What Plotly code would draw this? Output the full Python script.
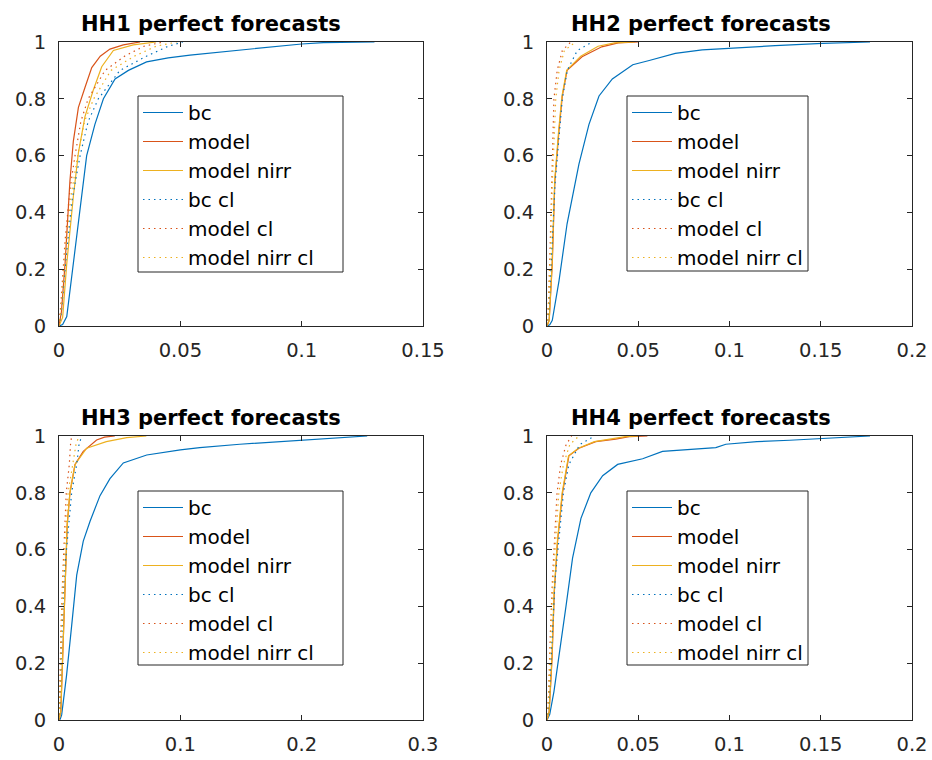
import plotly.graph_objects as go

# Empirical CDFs of the forecast error for four households (perfect forecasts)
names = ["bc", "model", "model nirr", "bc cl", "model cl", "model nirr cl"]
titles = ["HH1 perfect forecasts", "HH2 perfect forecasts",
          "HH3 perfect forecasts", "HH4 perfect forecasts"]
x_ranges = [0.15, 0.2, 0.3, 0.2]
x_ticks = [[0, 0.05, 0.1, 0.15],
           [0, 0.05, 0.1, 0.15, 0.2],
           [0, 0.1, 0.2, 0.3],
           [0, 0.05, 0.1, 0.15, 0.2]]
x_ticklabels = [["0", "0.05", "0.1", "0.15"],
                ["0", "0.05", "0.1", "0.15", "0.2"],
                ["0", "0.1", "0.2", "0.3"],
                ["0", "0.05", "0.1", "0.15", "0.2"]]
y_ticks = [0, 0.2, 0.4, 0.6, 0.8, 1]
y_ticklabels = ["0", "0.2", "0.4", "0.6", "0.8", "1"]

# ---- HH1 ----
hh1_bc_x = [0, 0.0015, 0.0032, 0.0059, 0.0087, 0.0114, 0.0148, 0.0183, 0.0231, 0.0286, 0.0361, 0.045, 0.054, 0.0746, 0.1, 0.109, 0.124, 0.13]
hh1_bc_y = [0, 0.005, 0.033, 0.22, 0.43, 0.60, 0.71, 0.80, 0.87, 0.90, 0.93, 0.944, 0.954, 0.972, 0.993, 0.998, 1.0, 1.0]
hh1_model_x = [0, 0.001, 0.0025, 0.0045, 0.0059, 0.008, 0.0107, 0.0135, 0.017, 0.021, 0.0265, 0.0334]
hh1_model_y = [0, 0.05, 0.22, 0.51, 0.65, 0.77, 0.84, 0.91, 0.95, 0.975, 0.99, 1.0]
hh1_nirr_x = [0, 0.0015, 0.0032, 0.0059, 0.008, 0.0107, 0.0141, 0.0176, 0.0224, 0.0306, 0.040]
hh1_nirr_y = [0, 0.03, 0.22, 0.455, 0.61, 0.737, 0.83, 0.913, 0.97, 0.99, 1.0]
hh1_bccl_x = [0, 0.001, 0.003, 0.0055, 0.0087, 0.012, 0.0162, 0.0251, 0.036, 0.045, 0.051]
hh1_bccl_y = [0, 0.05, 0.25, 0.45, 0.60, 0.72, 0.80, 0.90, 0.95, 0.985, 1.0]
hh1_modelcl_x = [0, 0.0008, 0.0025, 0.0045, 0.0066, 0.009, 0.012, 0.019, 0.027, 0.035, 0.043]
hh1_modelcl_y = [0, 0.08, 0.30, 0.48, 0.60, 0.72, 0.80, 0.90, 0.95, 0.985, 1.0]
hh1_nirrcl_x = [0, 0.001, 0.0028, 0.005, 0.0077, 0.0105, 0.0143, 0.0214, 0.031, 0.040, 0.0485]
hh1_nirrcl_y = [0, 0.07, 0.28, 0.46, 0.60, 0.72, 0.80, 0.90, 0.95, 0.985, 1.0]

# ---- HH2 ----
hh2_bc_x = [0, 0.0015, 0.0029, 0.0066, 0.011, 0.0175, 0.023, 0.0285, 0.0358, 0.047, 0.056, 0.0703, 0.085, 0.1, 0.125, 0.151, 0.177]
hh2_bc_y = [0, 0.004, 0.02, 0.16, 0.36, 0.57, 0.71, 0.81, 0.87, 0.92, 0.935, 0.96, 0.972, 0.978, 0.987, 0.995, 1.0]
hh2_model_x = [0, 0.0012, 0.0029, 0.0043, 0.0066, 0.0084, 0.011, 0.0192, 0.030, 0.039, 0.05]
hh2_model_y = [0, 0.02, 0.22, 0.51, 0.69, 0.81, 0.90, 0.948, 0.983, 0.997, 1.0]
hh2_nirr_x = [0, 0.0012, 0.0028, 0.0042, 0.0064, 0.0082, 0.0108, 0.0185, 0.028, 0.037, 0.048]
hh2_nirr_y = [0, 0.02, 0.22, 0.51, 0.69, 0.81, 0.90, 0.95, 0.985, 0.997, 1.0]
hh2_bccl_x = [0, 0.001, 0.0025, 0.0044, 0.0084, 0.0111, 0.0166, 0.0248]
hh2_bccl_y = [0, 0.05, 0.25, 0.50, 0.80, 0.90, 0.97, 1.0]
hh2_modelcl_x = [0, 0.0008, 0.0018, 0.0026, 0.0038, 0.0056, 0.0084, 0.013]
hh2_modelcl_y = [0, 0.08, 0.30, 0.50, 0.80, 0.90, 0.97, 1.0]
hh2_nirrcl_x = [0, 0.0008, 0.002, 0.0029, 0.0048, 0.0066, 0.0095, 0.0157]
hh2_nirrcl_y = [0, 0.07, 0.28, 0.50, 0.80, 0.90, 0.97, 1.0]

# ---- HH3 ----
hh3_bc_x = [0, 0.001, 0.0022, 0.0063, 0.0105, 0.0146, 0.02, 0.0256, 0.0338, 0.042, 0.053, 0.0723, 0.1, 0.116, 0.149, 0.2, 0.229, 0.254]
hh3_bc_y = [0, 0.003, 0.018, 0.16, 0.335, 0.51, 0.63, 0.70, 0.79, 0.85, 0.905, 0.933, 0.951, 0.959, 0.971, 0.986, 0.994, 1.0]
hh3_model_x = [0, 0.0015, 0.003, 0.005, 0.0068, 0.009, 0.0132, 0.02, 0.031, 0.0375, 0.046]
hh3_model_y = [0, 0.03, 0.22, 0.45, 0.69, 0.80, 0.90, 0.946, 0.986, 0.996, 1.0]
hh3_nirr_x = [0, 0.0015, 0.003, 0.005, 0.0068, 0.009, 0.0132, 0.0228, 0.039, 0.0558, 0.072]
hh3_nirr_y = [0, 0.03, 0.22, 0.45, 0.69, 0.80, 0.90, 0.957, 0.98, 0.994, 1.0]
hh3_bccl_x = [0, 0.0008, 0.002, 0.0041, 0.0104, 0.0146, 0.0165, 0.0187]
hh3_bccl_y = [0, 0.05, 0.25, 0.50, 0.80, 0.90, 0.97, 1.0]
hh3_modelcl_x = [0, 0.0006, 0.0015, 0.003, 0.006, 0.0085, 0.0095, 0.0104]
hh3_modelcl_y = [0, 0.08, 0.30, 0.50, 0.80, 0.90, 0.97, 1.0]
hh3_nirrcl_x = [0, 0.0007, 0.0018, 0.0035, 0.0075, 0.011, 0.014, 0.0165]
hh3_nirrcl_y = [0, 0.07, 0.28, 0.50, 0.80, 0.90, 0.97, 1.0]

# ---- HH4 ----
hh4_bc_x = [0, 0.0015, 0.0038, 0.0066, 0.0104, 0.014, 0.0186, 0.024, 0.0305, 0.0387, 0.0524, 0.0633, 0.0742, 0.0925, 0.098, 0.115, 0.133, 0.151, 0.177]
hh4_bc_y = [0, 0.02, 0.10, 0.22, 0.40, 0.57, 0.71, 0.80, 0.86, 0.90, 0.92, 0.946, 0.951, 0.959, 0.971, 0.98, 0.985, 0.992, 1.0]
hh4_model_x = [0, 0.0012, 0.0028, 0.004, 0.0058, 0.0085, 0.012, 0.0175, 0.0267, 0.0376, 0.045, 0.055]
hh4_model_y = [0, 0.03, 0.22, 0.45, 0.63, 0.80, 0.93, 0.957, 0.98, 0.989, 0.998, 1.0]
hh4_nirr_x = [0, 0.0012, 0.0027, 0.0039, 0.0057, 0.0083, 0.0118, 0.0172, 0.026, 0.036, 0.043, 0.05]
hh4_nirr_y = [0, 0.03, 0.22, 0.45, 0.63, 0.80, 0.93, 0.957, 0.98, 0.99, 0.998, 1.0]
hh4_bccl_x = [0, 0.001, 0.0025, 0.0045, 0.009, 0.012, 0.018, 0.026]
hh4_bccl_y = [0, 0.05, 0.25, 0.50, 0.80, 0.90, 0.97, 1.0]
hh4_modelcl_x = [0, 0.0008, 0.0018, 0.003, 0.0055, 0.0075, 0.0105, 0.0135]
hh4_modelcl_y = [0, 0.08, 0.30, 0.50, 0.80, 0.90, 0.97, 1.0]
hh4_nirrcl_x = [0, 0.0008, 0.002, 0.0034, 0.0065, 0.009, 0.0125, 0.0175]
hh4_nirrcl_y = [0, 0.07, 0.28, 0.50, 0.80, 0.90, 0.97, 1.0]

series = [
    [(hh1_bc_x, hh1_bc_y), (hh1_model_x, hh1_model_y), (hh1_nirr_x, hh1_nirr_y),
     (hh1_bccl_x, hh1_bccl_y), (hh1_modelcl_x, hh1_modelcl_y), (hh1_nirrcl_x, hh1_nirrcl_y)],
    [(hh2_bc_x, hh2_bc_y), (hh2_model_x, hh2_model_y), (hh2_nirr_x, hh2_nirr_y),
     (hh2_bccl_x, hh2_bccl_y), (hh2_modelcl_x, hh2_modelcl_y), (hh2_nirrcl_x, hh2_nirrcl_y)],
    [(hh3_bc_x, hh3_bc_y), (hh3_model_x, hh3_model_y), (hh3_nirr_x, hh3_nirr_y),
     (hh3_bccl_x, hh3_bccl_y), (hh3_modelcl_x, hh3_modelcl_y), (hh3_nirrcl_x, hh3_nirrcl_y)],
    [(hh4_bc_x, hh4_bc_y), (hh4_model_x, hh4_model_y), (hh4_nirr_x, hh4_nirr_y),
     (hh4_bccl_x, hh4_bccl_y), (hh4_modelcl_x, hh4_modelcl_y), (hh4_nirrcl_x, hh4_nirrcl_y)],
]

colors = ["#0072BD", "#D95319", "#EDB120"] * 2
dashes = ["solid"] * 3 + ["1.5px,4px"] * 3

W, H = 932, 760
FONT = "DejaVu Sans, Verdana, sans-serif"
AX_COLOR = "#262626"

# panel boxes in pixels: (left, right, top, bottom)
boxes = [(59, 423, 42, 326), (547, 912, 42, 326),
         (59, 423, 436, 720), (547, 912, 436, 720)]
# legend frames in pixels: (left, right, top, bottom)
legend_frames = [(138, 343, 96, 272), (627, 808, 96, 271),
                 (138, 343, 491, 665), (627, 808, 491, 665)]
title_pos = [(211, 24), (701, 24), (211, 418), (701, 418)]

fig = go.Figure()
layout = dict(width=W, height=H, margin=dict(l=0, r=0, t=0, b=0, autoexpand=False),
              paper_bgcolor="white", plot_bgcolor="white",
              font=dict(family=FONT, color=AX_COLOR), showlegend=True)
annotations = []
shapes = []

for i in range(4):
    k = "" if i == 0 else str(i + 1)
    lg = "legend" + k
    for j, (xs, ys) in enumerate(series[i]):
        fig.add_trace(go.Scatter(
            x=xs, y=ys, mode="lines", name=names[j],
            line=dict(color=colors[j], width=1.2, dash=dashes[j]),
            xaxis="x" + k, yaxis="y" + k, legend=lg,
        ))
    l, r, t, b = boxes[i]
    common = dict(showgrid=False, zeroline=False, showline=True, mirror="ticks",
                  linecolor=AX_COLOR, linewidth=1, ticks="inside", ticklen=5,
                  tickcolor=AX_COLOR, automargin=False,
                  tickfont=dict(size=19.5, color=AX_COLOR, family=FONT))
    layout["xaxis" + k] = dict(domain=[l / W, r / W], range=[0, x_ranges[i]],
                               tickvals=x_ticks[i], ticktext=x_ticklabels[i],
                               anchor="y" + k, ticklabelstandoff=7, **common)
    layout["yaxis" + k] = dict(domain=[1 - b / H, 1 - t / H], range=[0, 1],
                               tickvals=y_ticks, ticktext=y_ticklabels,
                               anchor="x" + k, ticklabelstandoff=8, **common)

    # legend frame (white box with dark border) under a transparent legend
    fl, fr, ft, fb = legend_frames[i]
    shapes.append(dict(type="rect", xref="paper", yref="paper",
                       x0=fl / W, x1=fr / W, y0=1 - fb / H, y1=1 - ft / H,
                       line=dict(color=AX_COLOR, width=1), fillcolor="white",
                       layer="above"))
    layout[lg] = dict(x=fl / W, y=1 - (ft - 3) / H, xanchor="left", yanchor="top",
                      xref="paper", yref="paper",
                      bgcolor="rgba(0,0,0,0)", borderwidth=0,
                      font=dict(size=20, color="black", family=FONT),
                      itemwidth=40, tracegroupgap=0)
    tx, ty = title_pos[i]
    annotations.append(dict(text="<b>" + titles[i] + "</b>", x=tx / W, y=1 - ty / H,
                            xref="paper", yref="paper", xanchor="center", yanchor="middle",
                            showarrow=False, font=dict(size=21, color="black", family=FONT)))

layout["annotations"] = annotations
layout["shapes"] = shapes
fig.update_layout(**layout)
fig.write_html("out.html")
